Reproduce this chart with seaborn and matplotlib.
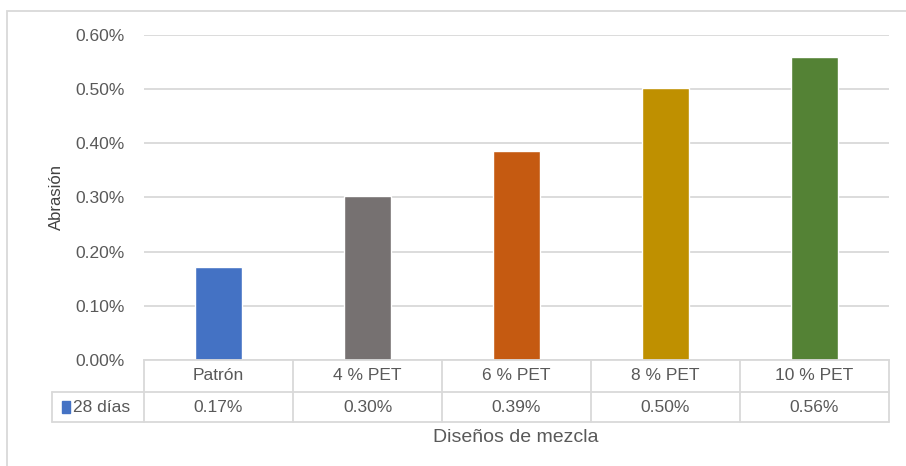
import pandas as pd
import matplotlib.pyplot as plt
import seaborn as sns
from matplotlib.patches import Rectangle
from matplotlib.ticker import PercentFormatter
import matplotlib.transforms as mtransforms

# Data (abrasion, in percent)
categories = ['Patrón', '4 % PET', '6 % PET', '8 % PET', '10 % PET']
abrasion = [0.172, 0.302, 0.385, 0.503, 0.560]
table_labels = ['0.17%', '0.30%', '0.39%', '0.50%', '0.56%']
series_name = '28 días'
colors = ['#4472C4', '#767171', '#C55A11', '#BF9000', '#548235']

sns.set_style('white')
plt.rcParams['font.family'] = ['Liberation Sans', 'DejaVu Sans']
text_col = '#595959'
line_col = '#D9D9D9'

W, H = 906, 466
fig = plt.figure(figsize=(W / 100, H / 100), dpi=100)
ax = fig.add_axes([144 / W, 1 - 360 / H, 745 / W, 325 / H])

df = pd.DataFrame({'cat': categories, 'val': abrasion})
sns.barplot(data=df, x='cat', y='val', hue='cat', palette=colors, width=0.32,
            legend=False, ax=ax, saturation=1)

ax.set_ylim(0, 0.6)
ax.set_xlim(-0.5, 4.5)
ax.set_yticks([0, 0.1, 0.2, 0.3, 0.4, 0.5, 0.6])
ax.yaxis.set_major_formatter(PercentFormatter(decimals=2))
ax.tick_params(axis='y', length=0, pad=14, labelsize=12.5, labelcolor=text_col)
ax.set_xticks([])
ax.set_xlabel('')
ax.grid(axis='y', color=line_col, linewidth=1.3)
ax.set_axisbelow(True)
for s in ['top', 'right', 'left']:
    ax.spines[s].set_visible(False)
ax.spines['bottom'].set_color(line_col)
ax.spines['bottom'].set_linewidth(1.3)

ax.set_ylabel('Abrasión', fontsize=12, color='#404040')
ax.yaxis.set_label_coords((64 - 144) / 745, 0.5)

# Data table below the plot
trans = mtransforms.blended_transform_factory(ax.transData, ax.transAxes)
r1 = -32 / 325
r2 = -62 / 325
x_left = -0.5 - (144 - 52) / 149
kw = dict(color=line_col, linewidth=1.3, clip_on=False, transform=trans)
ax.plot([x_left, 4.5], [r1, r1], **kw)
ax.plot([x_left, 4.5], [r2, r2], **kw)
ax.plot([x_left, x_left], [r1, r2], **kw)
for i in range(6):
    ax.plot([i - 0.5, i - 0.5], [0, r2], **kw)
for i, (c, t) in enumerate(zip(categories, table_labels)):
    ax.text(i, r1 / 2, c, transform=trans, ha='center', va='center',
            fontsize=12.5, color=text_col)
    ax.text(i, (r1 + r2) / 2, t, transform=trans, ha='center', va='center',
            fontsize=12.5, color=text_col)
ax.add_patch(Rectangle((x_left + 10 / 149, (r1 + r2) / 2 - 6 / 325), 8 / 149, 12 / 325,
                       transform=trans, color=colors[0], clip_on=False))
ax.text(x_left + 21 / 149, (r1 + r2) / 2, series_name, transform=trans,
        ha='left', va='center', fontsize=12.5, color=text_col)

fig.text(516 / W, 1 - 437 / H, 'Diseños de mezcla', ha='center', va='center',
         fontsize=14, color=text_col)

# Chart frame
fig.patches.append(Rectangle((7 / W, -0.05), 1.1, 1 - 11 / H + 0.05,
                             transform=fig.transFigure, fill=False,
                             edgecolor=line_col, linewidth=1.3))

fig.savefig('out.png', dpi=100)
